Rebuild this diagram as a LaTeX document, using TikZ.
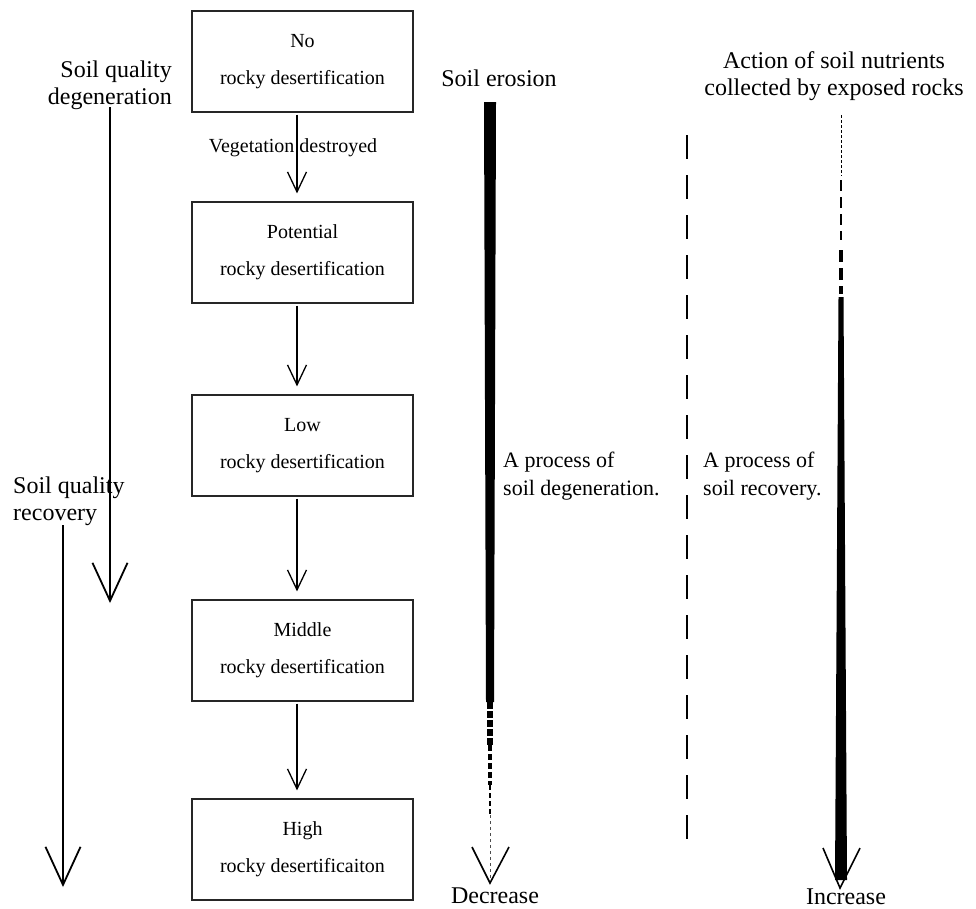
\documentclass[tikz,border=0pt]{standalone}
\usepackage{fontspec}
\setmainfont{Liberation Serif}
\usetikzlibrary{arrows.meta}
\begin{document}
\begin{tikzpicture}[x=1pt,y=-1pt,
  stagebox/.style={draw=black!85, line width=1.2pt, minimum width=221pt, minimum height=101pt, align=center, font=\fontsize{20}{37}\selectfont, inner sep=0pt},
  flowarrow/.style={line width=1.3pt, -{Straight Barb[length=20pt,width=19pt,line width=1.3pt]}, shorten <=2pt, shorten >=8pt},
  bigarrow/.style={line width=1.8pt, -{Straight Barb[length=38pt,width=35pt]}},
  lbl/.style={font=\fontsize{24}{27}\selectfont, inner sep=0pt},
  proc/.style={font=\fontsize{22}{28}\selectfont, inner sep=0pt, align=left, anchor=west},
  vhead/.style={line width=1.6pt, line join=miter}
]
\useasboundingbox (0,0) rectangle (976,908);

% stage boxes
\node[stagebox] (b1) at (302.5,61.5) {No\\rocky desertification};
\node[stagebox] (b2) at (302.5,252.5) {Potential\\rocky desertification};
\node[stagebox] (b3) at (302.5,445.5) {Low\\rocky desertification};
\node[stagebox] (b4) at (302.5,650.5) {Middle\\rocky desertification};
\node[stagebox] (b5) at (302.5,849.5) {High\\rocky desertificaiton};

\draw[flowarrow] ([xshift=-5.5pt]b1.south) -- ([xshift=-5.5pt]b2.north);
\draw[flowarrow] ([xshift=-5.5pt]b2.south) -- ([xshift=-5.5pt]b3.north);
\draw[flowarrow] ([xshift=-5.5pt]b3.south) -- ([xshift=-5.5pt]b4.north);
\draw[flowarrow] ([xshift=-5.5pt]b4.south) -- ([xshift=-5.5pt]b5.north);
\node[font=\fontsize{20}{24}\selectfont, inner sep=0pt] (veg) at (293,148) {Vegetation destroyed};

% left labels and arrows
\node[lbl, align=right, anchor=east] (ldeg) at (172,85) {Soil quality\\degeneration};
\node[lbl, align=left, anchor=west] (lrec) at (13,501) {Soil quality\\recovery};
\coordinate (degS) at (110,107);
\coordinate (degE) at (110,603);
\coordinate (recS) at (63,525);
\coordinate (recE) at (63,887);
\draw[bigarrow] (degS) -- (degE);
\draw[bigarrow] (recS) -- (recE);

% soil erosion bar
\node[lbl] (lero) at (499,78) {Soil erosion};
\fill (484,102) -- (496,102) -- (494,702) -- (486,702) -- cycle;
\draw[line width=6pt, dash pattern=on 7pt off 2pt] (490,702) -- (490,745);
\draw[line width=4pt, dash pattern=on 6pt off 3pt] (490,745) -- (490,785);
\draw[line width=2.5pt, dash pattern=on 5pt off 3pt] (490,785) -- (490,815);
\draw[line width=1pt, dash pattern=on 3pt off 3pt, black!70] (490,815) -- (490,880);
\coordinate (etip) at (490,883);
\draw[vhead] (472,847) -- (etip) -- (509,847);
\node[lbl] (ldec) at (495,896) {Decrease};

% middle dashed divider
\draw[line width=2.5pt, dash pattern=on 24pt off 16pt] (687,135) -- (687,850);

% process labels
\node[proc] (pdeg) at (503,476) {A process of\\soil degeneration.};
\node[proc] (prec) at (703,476) {A process of\\soil recovery.};

% nutrients bar
\node[lbl, align=center] (lact) at (834,76) {Action of soil nutrients\\collected by exposed rocks};
\draw[line width=1pt, dash pattern=on 3pt off 2pt] (841,115) -- (841,176);
\draw[line width=2.5pt, dash pattern=on 11pt off 6pt] (841,180) -- (841,240);
\draw[line width=4.5pt, dash pattern=on 12pt off 6pt] (841,250) -- (841,294);
\fill (838.5,297) -- (843.5,297) -- (847,880) -- (835,880) -- cycle;
\coordinate (itip) at (840,888);
\draw[vhead] (823,848) -- (itip) -- (860,848);
\node[lbl] (linc) at (846,897) {Increase};
\end{tikzpicture}
\end{document}
